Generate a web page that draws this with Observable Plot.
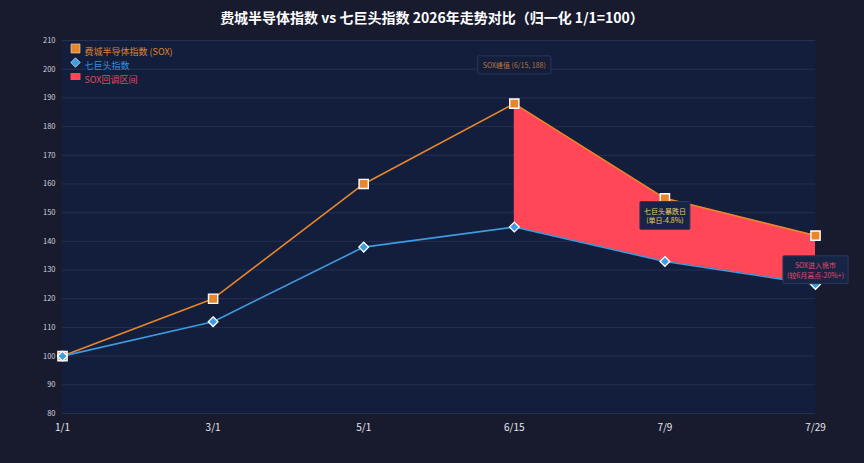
<!DOCTYPE html>
<html><head><meta charset="utf-8">
<script src="https://cdn.jsdelivr.net/npm/d3@7"></script>
<script src="https://cdn.jsdelivr.net/npm/@observablehq/plot@0.6"></script>
<style>
body{margin:0;background:#181a2e;width:864px;height:463px;overflow:hidden;font-family:"Noto Sans CJK SC","Noto Sans",sans-serif}
#title{height:35px;line-height:35px;text-align:center;color:#ffffff;font-weight:bold;font-size:14px}
</style></head><body>
<div id="title">费城半导体指数 vs 七巨头指数 2026年走势对比（归一化 1/1=100）</div>
<div id="chart"></div>
<script>
const dates = ["1/1","3/1","5/1","6/15","7/9","7/29"];
const soxValues = [100,120,160,188,155,142];
const mag7Values = [100,112,138,145,133,125];
const yTicks = [80,90,100,110,120,130,140,150,160,170,180,190,200,210];
const pullbackDates = ["6/15","7/9","7/29"];
const legendLabels = ["费城半导体指数 (SOX)","七巨头指数","SOX回调区间"];
const noteTexts = ["SOX峰值 (6/15, 188)","七巨头暴跌日\n(单日-4.8%)","SOX进入熊市\n(较6月高点-20%+)"];
const noteDates = ["6/15","7/9","7/29"];
const noteValues = [188,155,142];

const C_SOX = "#e8862a", C_MAG = "#3d9be0", C_RED = "#ff4757";

const rows = dates.map((d,i)=>({date:d, sox:soxValues[i], mag:mag7Values[i]}));
const pull = rows.filter(r=>pullbackDates.includes(r.date));
const notes = noteTexts.map((t,i)=>({text:t, date:noteDates[i], value:noteValues[i]}));
const rectSymbol = {draw(ctx){ ctx.rect(-5,-3.5,10,7); }};

const plot = Plot.plot({
  width:864, height:428,
  marginTop:5, marginBottom:50, marginLeft:62, marginRight:49,
  style:{background:"transparent", fontFamily:"'Noto Sans CJK SC', sans-serif"},
  x:{type:"point", domain:dates, padding:0, round:false, label:null},
  y:{domain:[80,210], label:null},
  marks:[
    Plot.frame({fill:"#131e3c", stroke:"none"}),
    Plot.gridY(yTicks, {stroke:"#262f52", strokeOpacity:1, strokeWidth:1}),
    Plot.axisY(yTicks, {tickSize:0, tickPadding:7, fontSize:7.5, fill:"#cfd3dc", label:null}),
    Plot.axisX({tickSize:0, tickPadding:10, fontSize:10, fill:"#e6e8ee", label:null}),
    Plot.areaY(pull, {x:"date", y1:"mag", y2:"sox", fill:C_RED, fillOpacity:1}),
    Plot.line(rows, {x:"date", y:"sox", stroke:C_SOX, strokeWidth:1.6}),
    Plot.line(rows, {x:"date", y:"mag", stroke:C_MAG, strokeWidth:1.6}),
    Plot.dot(rows, {x:"date", y:"sox", symbol:"square", r:5.2, fill:C_SOX, stroke:"#ffffff", strokeWidth:1.4}),
    Plot.dot(rows, {x:"date", y:"mag", symbol:"diamond2", r:4.4, fill:C_MAG, stroke:"#ffffff", strokeWidth:1.3}),
    // legend
    Plot.dot([legendLabels[0]], {frameAnchor:"top-left", dx:13, dy:8, symbol:"square", r:5, fill:C_SOX, stroke:"#f3c9a0", strokeWidth:0.8}),
    Plot.dot([legendLabels[1]], {frameAnchor:"top-left", dx:13, dy:22, symbol:"diamond2", r:4.2, fill:C_MAG, stroke:"#cfe6fa", strokeWidth:0.8}),
    Plot.dot([legendLabels[2]], {frameAnchor:"top-left", dx:13, dy:36, symbol:rectSymbol, fill:C_RED, stroke:"none"}),
    Plot.text([legendLabels[0]], {frameAnchor:"top-left", dx:22, dy:8, text:d=>d, textAnchor:"start", fontSize:9, fill:"#e0832c"}),
    Plot.text([legendLabels[1]], {frameAnchor:"top-left", dx:22, dy:22, text:d=>d, textAnchor:"start", fontSize:9, fill:"#3a8fd8"}),
    Plot.text([legendLabels[2]], {frameAnchor:"top-left", dx:22, dy:36, text:d=>d, textAnchor:"start", fontSize:9, fill:"#e04a5e"}),
    // annotations
    Plot.text([notes[0]], {x:"date", y:"value", text:"text", dy:-38, fontSize:7, fill:"#b8763c", className:"note n0"}),
    Plot.text([notes[1]], {x:"date", y:"value", text:"text", dy:17, fontSize:7, lineHeight:1.4, fill:"#e8cf6a", className:"note n1"}),
    Plot.text([notes[2]], {x:"date", y:"value", text:"text", dy:34, fontSize:7, lineHeight:1.4, fill:"#e04a6a", className:"note n2"})
  ]
});
document.getElementById("chart").appendChild(plot);

const boxStyles = {n0:{fill:"#141d3a", stroke:"#2c3658", px:5}, n1:{fill:"#172444", stroke:"#2a3a62", px:4}, n2:{fill:"#172444", stroke:"#2a3a62", px:4}};
for (const k of ["n0","n1","n2"]) {
  const g = plot.querySelector("g."+k);
  if (!g) continue;
  const b = g.getBBox();
  const px = boxStyles[k].px;
  const r = document.createElementNS("http://www.w3.org/2000/svg","rect");
  r.setAttribute("x", b.x-px); r.setAttribute("y", b.y-4);
  r.setAttribute("width", b.width+2*px); r.setAttribute("height", b.height+8);
  r.setAttribute("fill", boxStyles[k].fill); r.setAttribute("stroke", boxStyles[k].stroke);
  r.setAttribute("rx", 1);
  g.insertBefore(r, g.firstChild);
}
</script>
</body></html>
